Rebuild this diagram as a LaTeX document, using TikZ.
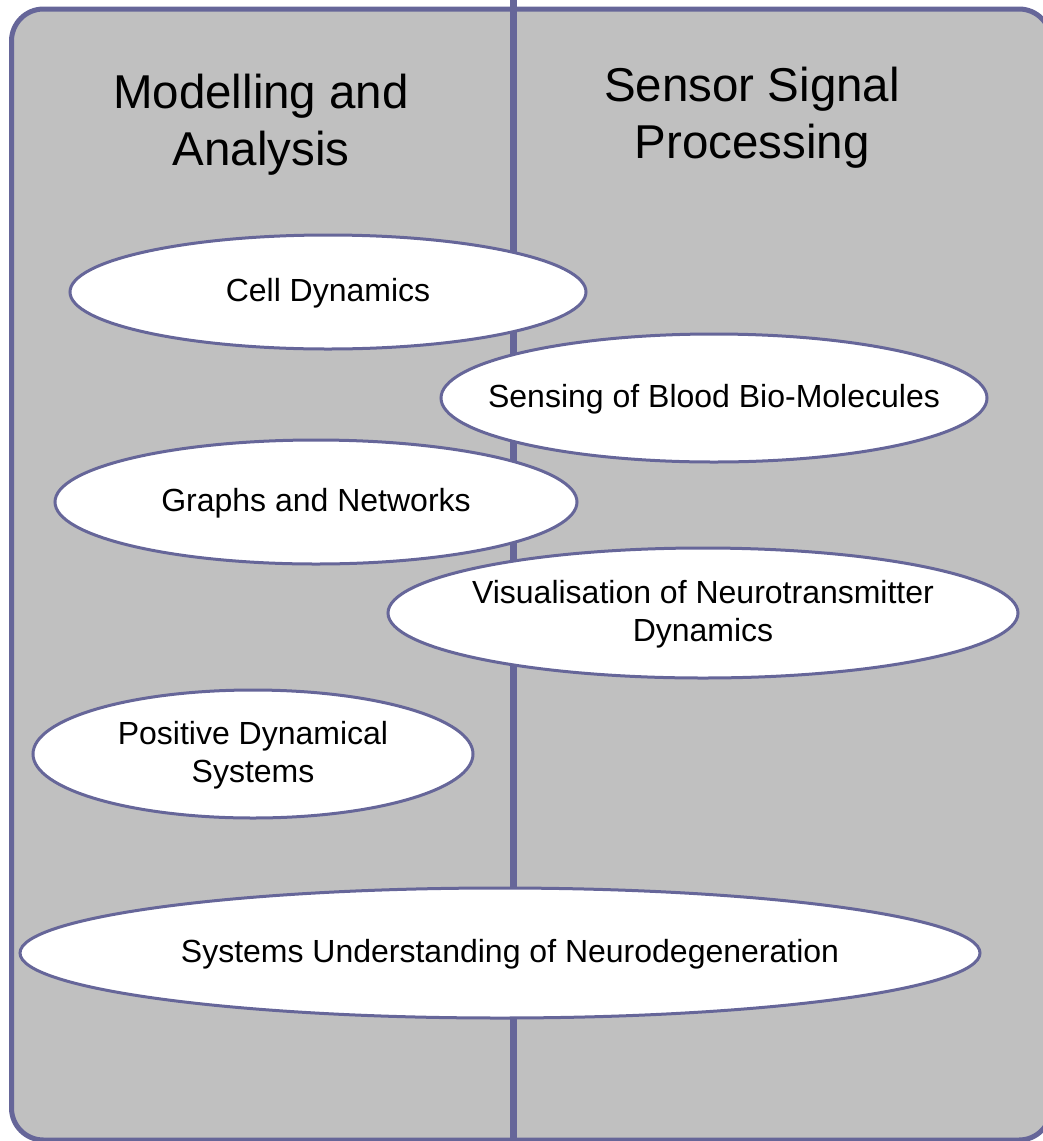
\documentclass[tikz,border=0pt]{standalone}
\usepackage{fontspec}
\setmainfont{Liberation Sans}
\definecolor{frame}{RGB}{102,102,153}
\definecolor{panel}{RGB}{192,192,192}
\tikzset{
  topicshape/.style={draw=frame, line width=3pt, fill=white},
  topic/.style={inner sep=0pt, align=center, font=\fontsize{32}{38.5}\selectfont},
  heading/.style={align=center, font=\fontsize{47.5}{57}\selectfont, inner sep=0pt}
}
\begin{document}
\begin{tikzpicture}[x=1pt,y=-1pt]
\useasboundingbox (0,0) rectangle (1043,1141);
\clip (0,0) rectangle (1043,1141);
\draw[frame, line width=5pt, fill=panel, rounded corners=32pt] (11.5,9) rectangle (1051,1140);
\coordinate (dtop) at (513,0);
\coordinate (dbot) at (513,1141);
\draw[frame, line width=7pt] (dtop) -- (dbot);
\node[heading] (h1) at (261,125) {Modelling and\\Analysis};
\node[heading] (h2) at (752,118) {Sensor Signal\\Processing};
\path[topicshape] (328,292) ellipse [x radius=258pt, y radius=57pt];
\node[topic] (cell) at (328,293) {Cell Dynamics};
\path[topicshape] (714,398) ellipse [x radius=273pt, y radius=64pt];
\node[topic] (blood) at (714,399) {Sensing of Blood Bio-Molecules};
\path[topicshape] (316,502) ellipse [x radius=261pt, y radius=62pt];
\node[topic] (graphs) at (316,503) {Graphs and Networks};
\path[topicshape] (703,613) ellipse [x radius=315pt, y radius=65pt];
\node[topic] (visual) at (703,614) {Visualisation of Neurotransmitter\\Dynamics};
\path[topicshape] (253,754) ellipse [x radius=220pt, y radius=64pt];
\node[topic] (pos) at (253,755) {Positive Dynamical\\Systems};
\path[topicshape] (500,953) ellipse [x radius=480pt, y radius=65pt];
\node[topic] (neuro) at (510,954) {Systems Understanding of Neurodegeneration};
\end{tikzpicture}
\end{document}
